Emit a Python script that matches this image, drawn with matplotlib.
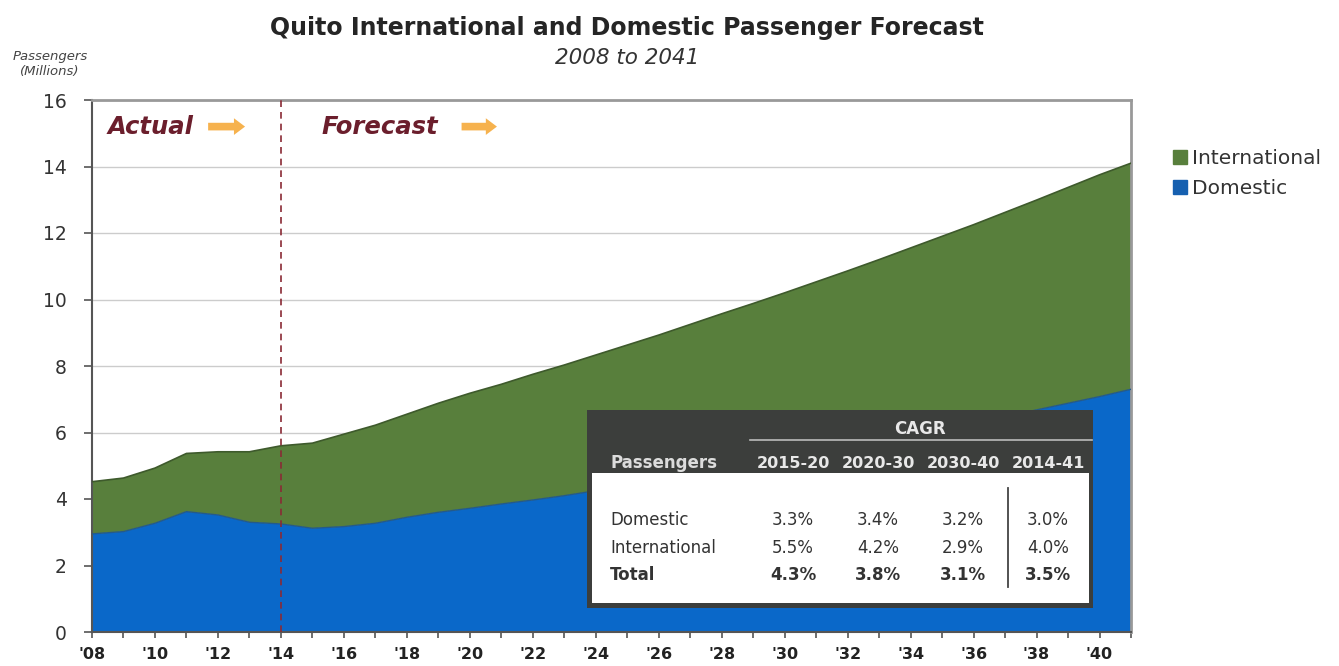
import numpy as np
import matplotlib.pyplot as plt
from matplotlib.patches import Rectangle
from matplotlib.lines import Line2D

years = list(range(2008, 2042))
total = [4.52, 4.63, 4.93, 5.37, 5.42, 5.42, 5.60, 5.68, 5.95, 6.22,
         6.55, 6.88, 7.18, 7.45, 7.75, 8.03, 8.33, 8.63, 8.93, 9.25,
         9.57, 9.88, 10.20, 10.53, 10.86, 11.20, 11.55, 11.90, 12.25, 12.62,
         12.99, 13.37, 13.75, 14.10]
domestic = [2.95, 3.02, 3.27, 3.62, 3.52, 3.30, 3.25, 3.12, 3.17, 3.27,
            3.45, 3.60, 3.72, 3.85, 3.97, 4.10, 4.25, 4.40, 4.55, 4.70,
            4.86, 5.03, 5.20, 5.37, 5.54, 5.72, 5.90, 6.09, 6.28, 6.48,
            6.68, 6.88, 7.08, 7.30]
international = [t - d for t, d in zip(total, domestic)]

tick_years = list(range(2008, 2041, 2))
tick_labels = ["'%02d" % (y % 100) for y in tick_years]

cagr_periods = ['2015-20', '2020-30', '2030-40', '2014-41']
cagr_rows = ['Domestic', 'International', 'Total']
cagr_domestic = ['3.3%', '3.4%', '3.2%', '3.0%']
cagr_international = ['5.5%', '4.2%', '2.9%', '4.0%']
cagr_total = ['4.3%', '3.8%', '3.1%', '3.5%']

BLUE = '#0a68c9'
GREEN = '#587f3c'
DARKRED = '#6b1e2c'
ORANGE = '#f6b24e'
W, H = 1339, 666


def fx(px):
    return px / W


def fy(py):
    return 1 - py / H


plt.rcParams['font.family'] = ['DejaVu Sans']

fig = plt.figure(figsize=(W / 100, H / 100), dpi=100)
ax = fig.add_axes([fx(92), fy(632), fx(1131) - fx(92), fy(100) - fy(632)])

ax.stackplot(years, domestic, international, colors=[BLUE, GREEN],
             labels=['Domestic', 'International'], zorder=2)
ax.plot(years, domestic, color='#245a8a', lw=1.0, zorder=3)
ax.plot(years, total, color='#3e5a2c', lw=1.2, zorder=3)

ax.set_xlim(2008, 2041)
ax.set_ylim(0, 16)
ax.set_yticks(range(0, 17, 2))
ax.set_xticks(tick_years)
ax.set_xticklabels(tick_labels, fontsize=11.5, fontweight='bold')
ax.set_xticks(years, minor=True)
ax.tick_params(axis='y', labelsize=13.5, colors='#555555', labelcolor='#333333',
               length=6, width=1.2, pad=12)
ax.tick_params(axis='x', which='both', length=4.5, width=1.2, colors='#555555', pad=6)
ax.tick_params(axis='x', labelcolor='#222222')
ax.grid(axis='y', color='#cccccc', lw=1, zorder=1)
ax.set_axisbelow(True)
for s in ['top', 'right']:
    ax.spines[s].set_color('#999999')
    ax.spines[s].set_linewidth(2)
for s in ['left', 'bottom']:
    ax.spines[s].set_color('#555555')
    ax.spines[s].set_linewidth(1.5)

ax.axvline(2014, color='#8a2a35', lw=1.2, ls=(0, (4, 3)), zorder=4)

ax.text(2008.5, 15.2, 'Actual', fontsize=17.5, fontweight='bold', style='italic',
        color=DARKRED, va='center', ha='left', zorder=5)
ax.text(2015.3, 15.2, 'Forecast', fontsize=17.5, fontweight='bold', style='italic',
        color=DARKRED, va='center', ha='left', zorder=5)
for x0, x1 in [(2011.6, 2012.95), (2019.65, 2020.95)]:
    ax.annotate('', xy=(x1, 15.2), xytext=(x0, 15.2),
                arrowprops=dict(arrowstyle='simple,head_width=1.2,head_length=0.8,tail_width=0.55',
                                color=ORANGE, lw=0), zorder=5)

fig.text(fx(627), fy(28), 'Quito International and Domestic Passenger Forecast',
         ha='center', va='center', fontsize=17, fontweight='bold', color='#252525')
fig.text(fx(627), fy(58), '2008 to 2041', ha='center', va='center',
         fontsize=15.5, style='italic', color='#333333')
fig.text(fx(50), fy(64), 'Passengers\n(Millions)', ha='center', va='center',
         fontsize=9.5, style='italic', color='#444444', linespacing=1.2)

handles = [Line2D([], [], marker='s', ls='', markersize=9.5, color=GREEN),
           Line2D([], [], marker='s', ls='', markersize=9.5, color='#1660b0')]
fig.legend(handles, ['International', 'Domestic'], loc='upper left',
           bbox_to_anchor=(fx(1154), fy(131)), frameon=False, fontsize=14.5,
           handletextpad=0.2, labelspacing=0.55, handlelength=0.8,
           labelcolor='#333333')

# CAGR table box
fig.patches.append(Rectangle((fx(587), fy(608)), fx(1093) - fx(587), fy(410) - fy(608),
                             transform=fig.transFigure, facecolor='#3c3e3c',
                             edgecolor='none', zorder=5))
fig.patches.append(Rectangle((fx(592), fy(603)), fx(1089) - fx(592), fy(473) - fy(603),
                             transform=fig.transFigure, facecolor='white',
                             edgecolor='none', zorder=6))
fig.add_artist(Line2D([fx(750), fx(1092)], [fy(440), fy(440)], color='#bbbbbb', lw=1.2, zorder=7))
fig.add_artist(Line2D([fx(1008), fx(1008)], [fy(488), fy(587)], color='#444444', lw=1.3, zorder=7))
fig.text(fx(920), fy(429), 'CAGR', ha='center', va='center', fontsize=12,
         fontweight='bold', color='#e8e8e8', zorder=8)
fig.text(fx(610), fy(463), 'Passengers', ha='left', va='center', fontsize=12,
         fontweight='bold', color='#dcdcdc', zorder=8)
col_x = [793, 878, 963, 1048]
for cx, p in zip(col_x, cagr_periods):
    fig.text(fx(cx), fy(463), p, ha='center', va='center', fontsize=11.5,
             fontweight='bold', color='#e8e8e8', zorder=8)
row_y = [520, 548, 575]
for ry, name, vals in zip(row_y, cagr_rows, [cagr_domestic, cagr_international, cagr_total]):
    wt = 'bold' if name == 'Total' else 'normal'
    fig.text(fx(610), fy(ry), name, ha='left', va='center', fontsize=12,
             fontweight=wt, color='#333333', zorder=8)
    for cx, v in zip(col_x, vals):
        fig.text(fx(cx), fy(ry), v, ha='center', va='center', fontsize=12,
                 fontweight=wt, color='#333333', zorder=8)

fig.savefig('out.png', dpi=100)
